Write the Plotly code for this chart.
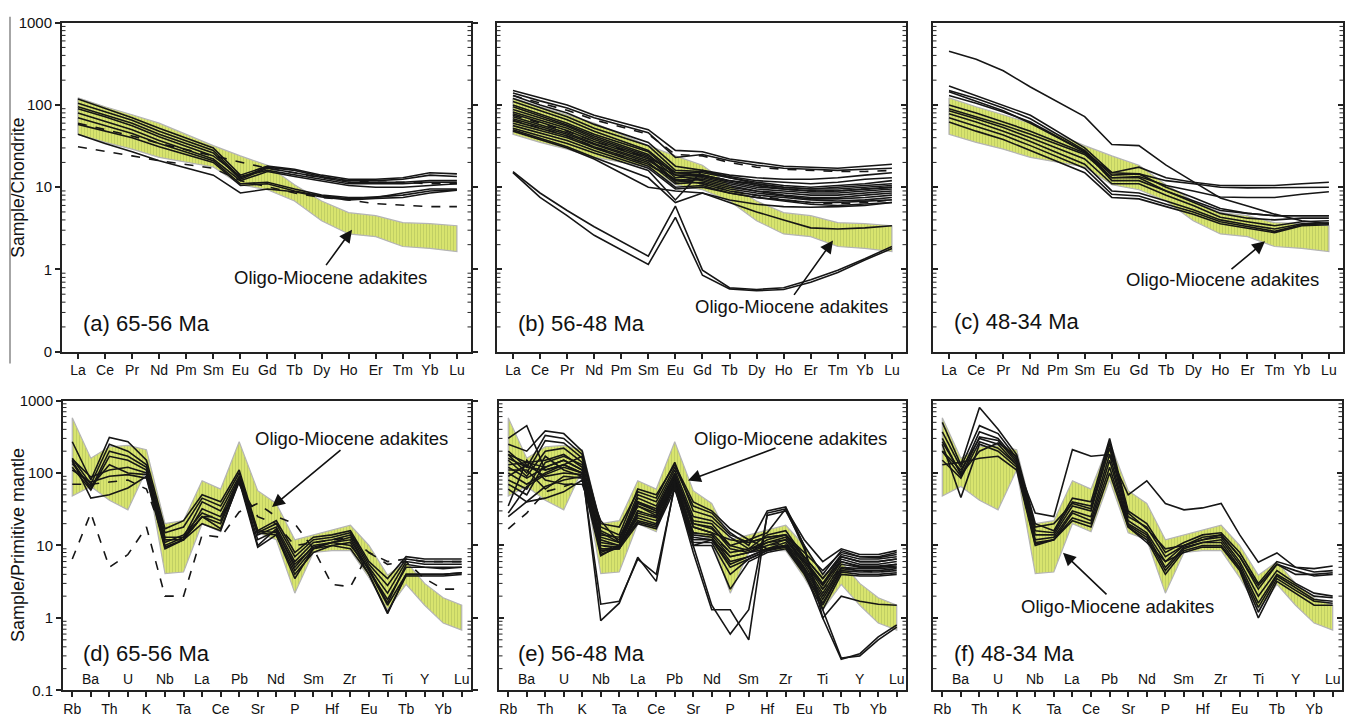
import plotly.graph_objects as go

W, H = 1352, 718

# ---------------- categories ----------------
REE = ["La", "Ce", "Pr", "Nd", "Pm", "Sm", "Eu", "Gd", "Tb", "Dy", "Ho", "Er", "Tm", "Yb", "Lu"]
SPIDER = ["Rb", "Ba", "Th", "U", "K", "Nb", "Ta", "La", "Ce", "Pb", "Sr", "Nd", "P", "Sm",
          "Hf", "Zr", "Eu", "Ti", "Tb", "Y", "Yb", "Lu"]

# ---------------- reference field: Oligo-Miocene adakites ----------------
ree_band_upper = [122, 95, 76, 60, None, 32, 24, 18.5, 10.7, 6.8, 4.9, 4.5, 3.7, 3.6, 3.4]
ree_band_lower = [44, 35, 29, 23, None, 17.6, 10.7, 9.3, 6.8, 3.9, 2.7, 2.5, 1.9, 1.8, 1.65]
sp_band_upper = [580, 160, 230, 240, 210, 20, 22, 78, 60, 270, 57, 38, 12, 14, 16.5, 19, 10, 3.9, 6, 3.0, 1.9, 1.5]
sp_band_lower = [48, 65, 42, 31, 110, 4.1, 4.3, 20, 15.5, 80, 15, 12, 2.2, 8, 8.5, 8.5, 3.6, 1.3, 2.9, 1.5, 0.85, 0.68]

# ---------------- (a) 65-56 Ma REE ----------------
a_solid = [
    [118, 90, 70, 52, None, 30, 14, 18, 16.5, 14, 12.5, 12.5, 13, 15, 14.5],
    [105, 82, 65, 48, None, 28, 13, 17.5, 16, 13.5, 12, 12, 12.5, 14, 13.5],
    [95, 76, 60, 44, None, 26, 12.5, 17, 15, 13, 11.5, 11.5, 11.5, 12, 12],
    [90, 72, 56, 41, None, 24, 13.5, 16, 14, 12.5, 11, 11, 11, 11.5, 11.5],
    [80, 63, 50, 37, None, 22, 12, 15.5, 13.5, 12, 10.5, 10, 10, 10.5, 11],
    [70, 56, 45, 34, None, 21, 11, 11.5, 9.5, 8, 7.5, 7.5, 8.5, 9.5, 9.5],
    [58, 48, 40, 31, None, 20, 10.5, 11, 9, 7.8, 7.2, 7.6, 8, 9, 9.3],
    [44, 34, 27, 21, None, 14, 8.5, 9.5, 8.8, 7.6, 7, 7.3, 7.5, 8.5, 9.2],
]
a_dash = [
    [31, 27, 24, 21, None, 17, 12, 10, 8.5, 7.5, 7, 6.3, 6, 5.8, 5.8],
    [60, 50, 42, 34, None, 24, 20, 17, 15, 13, 12, 11.5, 11.5, 11, 11],
]

# ---------------- (b) 56-48 Ma REE ----------------
b_solid = [
    [150, 122, 100, 75, None, 50, 28, 27, 22, 20, 18, 17.5, 17, 18, 19],
    [140, 112, 92, 70, None, 46, 23, 25, 21, 18.5, 17, 16.5, 16, 16.5, 17],
    [130, 100, 80, 58, None, 35, 18, 16, 14, 13, 12.5, 12.5, 13, 14, 15],
    [120, 92, 72, 52, None, 32, 16, 15.5, 13.5, 12, 11.5, 11, 11.5, 12.5, 13],
    [110, 85, 66, 48, None, 28, 15, 15, 13, 11.5, 10.5, 10, 10.5, 11, 12],
    [100, 78, 60, 44, None, 27, 14, 14, 12, 11, 10, 9.5, 10, 10.5, 11],
    [95, 74, 57, 42, None, 25, 13, 13.5, 11.5, 10, 9.5, 9, 9, 9.5, 10],
    [88, 70, 55, 40, None, 24, 15, 14, 12, 10.5, 9.5, 9, 9, 9.5, 10],
    [82, 65, 52, 38, None, 23, 12, 13, 11, 9.5, 9, 8.5, 8.5, 9, 9.5],
    [78, 62, 49, 36, None, 22, 11.5, 12.5, 10.5, 9, 8.5, 8, 8, 8.5, 9],
    [72, 58, 46, 34, None, 21, 14, 12, 10, 9, 8, 7.5, 7.5, 8, 8.5],
    [68, 55, 44, 33, None, 20, 11, 11.5, 9.5, 8.5, 7.8, 7.2, 7.2, 7.5, 8],
    [64, 52, 42, 31, None, 19, 12.5, 11, 9, 8, 7.5, 7, 6.8, 7, 7.5],
    [60, 49, 40, 30, None, 18, 10, 10.5, 8.5, 7.5, 7, 6.5, 6.5, 6.8, 7],
    [56, 46, 37, 28, None, 17, 9.5, 10, 8.5, 7.5, 6.8, 6.2, 6, 6.2, 6.5],
    [52, 42, 34, 26, None, 16, 7, 16, 13, 11, 10, 9.5, 9.5, 10, 10.5],
    [48, 38, 30, 22, None, 10, 9, 8.5, 7, 6.2, 5.8, 5.7, 5.8, 6, 6.5],
    [50, 39, 31, 23, None, 13, 6.5, 8.5, 6.5, 5, 4, 3.2, 3.1, 3.2, 3.4],
    [15.5, 8.5, 5.2, 3.3, None, 1.45, 5.9, 0.98, 0.6, 0.57, 0.6, 0.75, 0.98, 1.35, 1.9],
    [15, 7.5, 4.5, 2.6, None, 1.15, 4.3, 0.85, 0.58, 0.55, 0.57, 0.7, 0.92, 1.3, 1.8],
]
b_dash = [
    [130, 105, 86, 66, None, 44, 25, 24, 20, 17.5, 16.5, 16, 15.5, 15.5, 16],
    [65, 52, 42, 31, None, 19, 12, 11, 9, 8, 7, 6.5, 6.3, 6.5, 7],
    [75, 60, 48, 36, None, 23, 15, 14, 12, 10.5, 9.5, 9, 9, 9.5, 10],
]

# ---------------- (c) 48-34 Ma REE ----------------
c_solid = [
    [450, 360, 260, 165, None, 72, 33, 32, 18.5, 11.7, 7.4, 5.9, 4.7, 3.9, 3.6],
    [170, 130, 100, 75, None, 30, 15, 17.5, 13, 11.5, 10.5, 10.5, 10.5, 11, 11.5],
    [150, 120, 92, 68, None, 28, 14, 14.5, 12, 11, 10, 9.8, 9.8, 10, 10],
    [130, 105, 82, 62, None, 27, 13, 13.5, 10.5, 9, 7.6, 7.5, 7.5, 8.2, 8.8],
    [145, 110, 85, 60, None, 27, 12, 12, 9, 6.8, 5.2, 4.8, 4.5, 4.5, 4.5],
    [100, 80, 62, 48, None, 26, 15, 14.5, 10, 7.5, 5.5, 4.8, 4.5, 4.5, 4.5],
    [90, 72, 57, 44, None, 25, 13, 13, 9, 6.5, 4.8, 4.2, 4, 4.2, 4.2],
    [85, 68, 53, 40, None, 22, 11, 11, 8, 6, 4.3, 3.8, 3.4, 3.8, 3.9],
    [78, 62, 48, 36, None, 19, 9, 8.5, 6.8, 5.3, 4, 3.5, 3.1, 3.6, 3.7],
    [70, 55, 43, 32, None, 17, 8.2, 7.8, 6.2, 5, 3.8, 3.3, 2.9, 3.5, 3.6],
    [62, 48, 38, 28, None, 15, 7.5, 7.2, 5.8, 4.7, 3.6, 3.2, 2.8, 3.4, 3.5],
]

# ---------------- (d) 65-56 Ma spider ----------------
d_solid = [
    [270, 80, 310, 270, 150, 17, 22, 50, 40, 110, 16, 22, 8, 13, 14, 16, 6, 3.5, 7, 6.5, 6.5, 6.5],
    [160, 70, 250, 200, 130, 15, 18, 45, 35, 100, 15, 20, 7, 12, 13, 15, 5.5, 2.8, 6.5, 6, 6, 6],
    [145, 60, 200, 170, 120, 13, 13, 40, 30, 90, 14, 18, 6, 11, 12, 14, 5, 2.2, 6, 5.5, 5.5, 5.5],
    [120, 58, 170, 150, 110, 12, 12, 32, 25, 85, 10, 17, 5, 10, 11, 12, 4.5, 1.8, 5, 5, 5, 5],
    [155, 88, 110, 120, 100, 11, 14, 28, 22, 80, 16, 15, 4.5, 9, 11, 13, 4.5, 1.5, 4, 4, 4, 4.2],
    [135, 65, 130, 100, 95, 10, 13, 25, 20, 78, 9.5, 14, 4, 8, 10, 11, 4, 1.2, 3.8, 3.8, 3.8, 4],
    [150, 45, 50, 62, 90, 9.5, 12, 25, 17, 75, 15, 14, 3.5, 9, 10, 9, 4, 1.15, 4, 4, 4, 4.2],
    [110, 75, 90, 95, 85, 9, 12, 20, 16, 80, 12, 16, 5.5, 9.5, 11, 10, 4.8, 1.6, 5.5, 5, 4.8, 5],
]
d_dash = [
    [70, 70, 75, 80, 60, 12, 12, 25, 25, 70, 25, 20, 10, 11, 12, 13, 8, 6, 6.5, 6, 6, 6],
    [6.5, 28, 5, 7.5, 18, 2, 2, 14, 13, 29, 38, 25, 20, 9, 2.9, 2.7, 8, 5.5, 6, 3.5, 2.5, 2.5],
]

# ---------------- (e) 56-48 Ma spider ----------------
e_solid = [
    [300, 450, 110, 130, 170, 20, 18, 55, 45, 140, 30, 25, 14, 11, 13, 14, 8, 4.5, 8, 7, 7, 8],
    [250, 200, 380, 350, 200, 18, 14, 60, 50, 130, 40, 30, 17, 12, 15, 32, 12, 6, 9, 7.5, 7.5, 8.5],
    [200, 120, 330, 300, 180, 16, 12, 50, 40, 120, 35, 28, 15, 10, 30, 34, 10, 4, 8.5, 7, 6.8, 7.5],
    [180, 100, 280, 260, 160, 15, 11, 45, 35, 110, 25, 22, 13, 9, 14, 16, 7, 3.5, 7.5, 6.5, 6.5, 7],
    [150, 90, 200, 220, 140, 13, 11, 40, 32, 100, 22, 20, 10, 8.5, 12, 14, 6.5, 3, 7, 6, 6, 6.5],
    [130, 140, 150, 180, 120, 12, 10, 38, 30, 95, 20, 18, 9, 8, 11, 13, 6, 2.8, 6.5, 5.5, 5.5, 6],
    [120, 85, 120, 150, 110, 11, 10, 35, 28, 90, 18, 15, 8, 9, 11, 12, 6, 2.5, 6, 5.2, 5.2, 5.5],
    [100, 70, 100, 130, 100, 10, 9.5, 30, 25, 85, 15, 14, 7, 8, 10, 12, 5.5, 2.2, 5.5, 5, 5, 5.2],
    [90, 130, 90, 100, 95, 9, 9, 28, 24, 80, 14, 13, 6, 7, 9, 11, 5, 2, 5, 4.8, 4.8, 5],
    [80, 60, 170, 110, 90, 8.5, 9, 26, 22, 75, 12, 12, 5.5, 7, 9, 10, 4.8, 1.8, 4.8, 4.5, 4.5, 4.8],
    [110, 110, 60, 90, 85, 8, 10, 24, 20, 72, 13, 12, 5, 6.5, 8.5, 10, 4.5, 1.6, 4.5, 4.3, 4.3, 4.5],
    [70, 50, 140, 170, 130, 7.5, 9.5, 22, 19, 70, 11, 11, 4, 6.5, 8.5, 9.5, 4.2, 1.5, 4.3, 4, 4, 4.2],
    [60, 40, 45, 55, 80, 7.2, 10, 21, 18, 68, 10, 10, 2.5, 6, 8, 9, 4, 1.3, 4, 3.8, 3.8, 4],
    [35, 150, 80, 70, 70, 14, 13, 40, 30, 90, 20, 17, 10, 12, 9, 10, 6, 3, 6, 5, 5, 5.5],
    [28, 65, 95, 120, 100, 22, 11, 35, 26, 95, 18, 15, 12, 11, 13, 14, 7, 3.5, 7, 6, 6, 6.5],
    [25, 40, 65, 80, 90, 9, 9, 20, 17, 60, 10, 12, 7, 8, 9, 10, 4.5, 1.0, 2.0, 1.7, 1.55, 1.5],
    [180, 140, 120, 150, 110, 0.92, 1.6, 6.9, 3.2, 70, 9.9, 1.5, 0.6, 1.3, 26, 30, 10, 1.0, 0.27, 0.32, 0.55, 0.8],
    [160, 120, 110, 130, 100, 1.55, 1.7, 6.5, 4, 65, 8, 1.3, 1.3, 0.5, 28, 32, 9, 1.3, 0.28, 0.3, 0.5, 0.75],
]
e_dash = [
    [17, 28, 55, 65, 80, 10, 9, 30, 25, 70, 15, 14, 8, 9, 10, 11, 5, 2.5, 5, 4.5, 4.3, 4.5],
]

# ---------------- (f) 48-34 Ma spider ----------------
f_solid = [
    [200, 110, 300, 250, 130, 28, 25, 210, 170, 180, 50, 78, 38, 31, 33, 38, 14, 5.9, 7.9, 5, 4.8, 5.2],
    [500, 130, 800, 400, 180, 20, 16, 45, 40, 300, 30, 20, 8, 11, 14, 15, 8, 3, 6, 5, 4.3, 4.5],
    [370, 120, 450, 350, 160, 16, 15, 40, 35, 250, 25, 18, 7, 10, 13, 14, 7, 2.5, 5.5, 4.5, 3.8, 4],
    [270, 100, 370, 300, 150, 14, 14, 35, 30, 220, 22, 15, 6, 10, 12, 13, 6, 2, 4.5, 3, 2.2, 2],
    [200, 90, 315, 280, 140, 12, 13, 30, 25, 180, 20, 14, 5, 9.5, 11, 12, 5.5, 1.6, 4, 2.8, 2, 1.9],
    [150, 85, 270, 220, 130, 11, 12, 28, 22, 150, 19, 13, 4.5, 9, 11, 11, 5, 1.4, 3.8, 2.6, 1.8, 1.7],
    [250, 46, 250, 200, 120, 10.5, 12, 24, 20, 120, 18, 12, 4, 8.5, 10, 10, 4.8, 1.2, 3.5, 2.4, 1.7, 1.6],
    [130, 140, 160, 170, 110, 10, 12, 22, 18, 100, 18, 11, 6, 8, 9.5, 9.5, 4.5, 1.0, 3.2, 2.2, 1.5, 1.5],
    [300, 95, 200, 260, 170, 18, 20, 38, 32, 270, 28, 17, 9, 10, 12, 14, 7, 2.8, 5.5, 4, 4, 4.2],
]

# ---------------- layout geometry (pixels) ----------------
TOP_Y = (14, 351)
BOT_Y = (401, 698)
TOP_X = [(62, 471), (497, 906), (933, 1343)]
BOT_X = [(63, 471), (499, 906), (933, 1342)]

LINE_C = "#161616"
AX_C = "#222222"
TXT_C = "#111111"
FONT = "Liberation Sans, Arial, sans-serif"

fig = go.Figure()


def px_dom_x(a, b):
    return [a / W, b / W]


def px_dom_y(a, b):
    return [1 - b / H, 1 - a / H]


def band_trace(cats, upper, lower, xa, ya):
    xs = [c for c, v in zip(cats, upper) if v is not None]
    ys = [v for v in upper if v is not None]
    xl = [c for c, v in zip(cats, lower) if v is not None][::-1]
    yl = [v for v in lower if v is not None][::-1]
    return go.Scatter(
        x=xs + xl + [xs[0]], y=ys + yl + [ys[0]], mode="lines", fill="toself",
        fillcolor="#d8e46e",
        fillpattern=dict(shape="|", fgcolor="#a9b95a", bgcolor="#d8e46e", size=3, solidity=0.35),
        line=dict(color="#b4b4b4", width=1.2), xaxis=xa, yaxis=ya, hoverinfo="skip")


def add_lines(cats, rows, xa, ya, dash=None):
    for r in rows:
        fig.add_trace(go.Scatter(
            x=cats, y=r, mode="lines", connectgaps=True,
            line=dict(color=LINE_C, width=1.6, dash=dash or "solid"),
            xaxis=xa, yaxis=ya, hoverinfo="skip"))


panels = [
    ("x", "y", REE, ree_band_upper, ree_band_lower, a_solid, a_dash),
    ("x2", "y2", REE, ree_band_upper, ree_band_lower, b_solid, b_dash),
    ("x3", "y3", REE, ree_band_upper, ree_band_lower, c_solid, []),
    ("x4", "y4", SPIDER, sp_band_upper, sp_band_lower, d_solid, d_dash),
    ("x5", "y5", SPIDER, sp_band_upper, sp_band_lower, e_solid, e_dash),
    ("x6", "y6", SPIDER, sp_band_upper, sp_band_lower, f_solid, []),
]

for xa, ya, cats, up, lo, solid, dashed in panels:
    fig.add_trace(band_trace(cats, up, lo, xa, ya))
    add_lines(cats, dashed, xa, ya, dash="dash")
    add_lines(cats, solid, xa, ya)

minor_vals = [d * 10 ** e for e in range(-1, 3) for d in range(2, 10)]

layout = dict(
    width=W, height=H, margin=dict(l=0, r=0, t=0, b=0),
    paper_bgcolor="white", plot_bgcolor="white", showlegend=False,
    font=dict(family=FONT, color=TXT_C),
)

shapes = []
for i in range(6):
    n = "" if i == 0 else str(i + 1)
    top = i < 3
    xd = TOP_X[i] if top else BOT_X[i - 3]
    yd = TOP_Y if top else BOT_Y
    cats = REE if top else SPIDER
    if top:
        ticktext = cats
        xr = [-0.59, 14.52]
    else:
        ticktext = [c if k % 2 == 0 else "" for k, c in enumerate(cats)]
        xr = [-0.5, 21.5]
    layout["xaxis" + n] = dict(
        domain=px_dom_x(*xd), anchor="y" + n, type="category", range=xr,
        categoryorder="array", categoryarray=cats,
        tickmode="array", tickvals=cats, ticktext=ticktext,
        ticks="outside", ticklen=5, tickwidth=1.5, tickcolor=AX_C,
        showline=True, linecolor=AX_C, linewidth=2, mirror=True,
        showgrid=False, zeroline=False,
        tickfont=dict(size=14, family=FONT, color=TXT_C),
    )
    first = i in (0, 3)
    ytext = ["0", "1", "10", "100", "1000"] if top else ["0.1", "1", "10", "100", "1000"]
    layout["yaxis" + n] = dict(
        domain=px_dom_y(*yd), anchor="x" + n, type="log", range=[-1, 3],
        tickmode="array", tickvals=[0.1, 1, 10, 100, 1000], ticktext=ytext,
        showticklabels=first,
        ticks="outside" if first else "inside", ticklen=5, tickwidth=1.5, tickcolor=AX_C,
        showline=True, linecolor=AX_C, linewidth=2, mirror="ticks",
        showgrid=False, zeroline=False,
        tickfont=dict(size=15, family=FONT, color=TXT_C),
    )
    # minor log ticks drawn inside on both sides of the frame
    wpx = xd[1] - xd[0]
    frac = 3.5 / wpx
    for v in minor_vals:
        for x0, x1 in ((0, frac), (1 - frac, 1)):
            shapes.append(dict(type="line", xref="x" + n + " domain", yref="y" + n,
                               x0=x0, x1=x1, y0=v, y1=v,
                               line=dict(color=AX_C, width=1)))

# thin bracket line at far left
shapes.append(dict(type="line", xref="paper", yref="paper", x0=10 / W, x1=10 / W,
                   y0=1 - 363 / H, y1=1 - 8 / H, line=dict(color="#888888", width=1.5)))
layout["shapes"] = shapes

fig.update_layout(**layout)

ann = []


def P(x, y):
    return x / W, 1 - y / H


# axis titles
for txt, yc, fs in [("Sample/Chondrite", 183, 17.5), ("Sample/Primitive mantle", 549, 18)]:
    x, y = P(18, yc)
    ann.append(dict(x=x, y=y, xref="paper", yref="paper", text=txt, showarrow=False,
                    textangle=-90, font=dict(size=fs, family=FONT, color=TXT_C),
                    xanchor="center", yanchor="middle"))

# panel labels
for txt, px, py in [("(a) 65-56 Ma", 81, 322), ("(b) 56-48 Ma", 516, 322), ("(c) 48-34 Ma", 952, 320),
                    ("(d) 65-56 Ma", 81, 660), ("(e) 56-48 Ma", 516, 660), ("(f) 48-34 Ma", 952, 660)]:
    x, y = P(px, py)
    ann.append(dict(x=x, y=y, xref="paper", yref="paper", text=txt, showarrow=False,
                    font=dict(size=22, family=FONT, color=TXT_C),
                    xanchor="left", yanchor="middle"))

# Oligo-Miocene adakites labels and arrows
labels = [
    (330, 275, (325, 263), (352, 226)),
    (791, 305, (793, 293), (833, 237)),
    (1222, 277, (1230, 267), (1265, 238)),
    (351, 440, (342, 452), (272, 510)),
    (790, 440, (777, 450), (688, 483)),
    (1117, 612, (1108, 600), (1063, 557)),
]
for cx, cy, tail, head in labels:
    x, y = P(cx, cy)
    ann.append(dict(x=x, y=y, xref="paper", yref="paper", text="Oligo-Miocene adakites",
                    showarrow=False, font=dict(size=18.5, family=FONT, color=TXT_C),
                    xanchor="center", yanchor="middle"))
    hx, hy = P(*head)
    ann.append(dict(x=hx, y=hy, xref="paper", yref="paper", text="", showarrow=True,
                    ax=tail[0] - head[0], ay=tail[1] - head[1], axref="pixel", ayref="pixel",
                    arrowhead=2, arrowsize=1.6, arrowwidth=1.6, arrowcolor=TXT_C))

# upper row of staggered spider labels
for n in ["4", "5", "6"]:
    for k, c in enumerate(SPIDER):
        if k % 2 == 1:
            ann.append(dict(x=c, y=0, xref="x" + n, yref="y" + n + " domain", text=c,
                            showarrow=False, yanchor="bottom", yshift=1,
                            font=dict(size=14, family=FONT, color=TXT_C)))

fig.update_layout(annotations=ann)

fig.write_html("out.html")
